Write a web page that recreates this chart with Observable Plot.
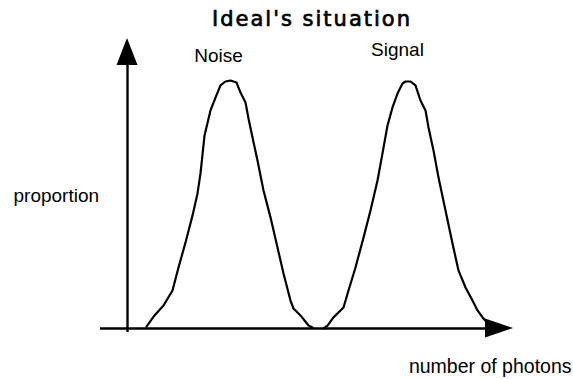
<!DOCTYPE html>
<html>
<head>
<meta charset="utf-8">
<script src="https://cdn.jsdelivr.net/npm/d3@7"></script>
<script src="https://cdn.jsdelivr.net/npm/@observablehq/plot@0.6"></script>
<style>
  html, body { margin: 0; padding: 0; background: #fff; }
</style>
</head>
<body>
<div id="chart"></div>
<script>
// Photon counts (arbitrary units) and the proportion of trials at each count.
const noiseX = [4.75, 6.75, 9, 11.25, 12.75, 14.5, 16.25, 17.5, 18.25, 19.25, 20.75, 22, 23.25, 24.5, 25.75,
                27.25, 28.25, 29.5, 30.25, 31.25, 32.5, 34, 35.75, 37.5, 39, 40.75, 41.5, 43.25, 45.25, 46.25];
const noiseY = [0.008, 0.053, 0.093, 0.154, 0.247, 0.348, 0.457, 0.547, 0.628, 0.781, 0.883, 0.935, 0.984, 1.0, 1.004,
                0.996, 0.955, 0.915, 0.850, 0.773, 0.680, 0.559, 0.450, 0.328, 0.223, 0.113, 0.081, 0.053, 0.012, 0.004];

const signalX = [49, 50, 51.5, 54, 55.25, 57, 59, 60.75, 62.5, 63.75, 65, 66.25, 67.5, 68.75, 69.5,
                 70.75, 72, 73.25, 74.5, 75.25, 76.5, 77.75, 79.5, 81.25, 82.75, 84.5, 86.25, 87.5, 89, 90.75];
const signalY = [0, 0.012, 0.045, 0.085, 0.154, 0.247, 0.368, 0.478, 0.599, 0.709, 0.822, 0.895, 0.951, 0.992, 1.0,
                 1.0, 0.984, 0.923, 0.883, 0.814, 0.721, 0.611, 0.478, 0.344, 0.235, 0.166, 0.113, 0.073, 0.040, 0.012];

const seriesNames = ["Noise", "Signal"];
const titleText = "Ideal's situation";
const xLabel = "number of photons";
const yLabel = "proportion";

// Extent of the two hand-drawn axes (data units).
const xAxisFrom = -6.75, xAxisTo = 96.5;
const yAxisFrom = -0.016, yAxisTo = 1.174;

const W = 573, H = 379;
const margin = {top: 81, right: 60, bottom: 51, left: 127};
const pxPerX = (W - margin.left - margin.right) / (xAxisTo - 0);
const pxPerY = (H - margin.top - margin.bottom) / 1;

const toRows = (xs, ys, name) => xs.map((x, i) => ({x, y: ys[i], name}));
const noise = toRows(noiseX, noiseY, seriesNames[0]);
const signal = toRows(signalX, signalY, seriesNames[1]);
const peak = rows => rows.reduce((a, b) => (b.y > a.y ? b : a));

// Filled arrowheads, sized in pixels and converted to data units.
const headLen = 28, headHalf = 9.5;
const xHead = [
  {x: xAxisTo - headLen / pxPerX, h: headHalf / pxPerY},
  {x: xAxisTo, h: 0}
];
const yHead = [
  {y: yAxisTo - 27 / pxPerY, w: 10.5 / pxPerX},
  {y: yAxisTo, w: 0}
];

const labelFont = "'Liberation Sans', Arial, sans-serif";

const chart = Plot.plot({
  width: W,
  height: H,
  marginTop: margin.top,
  marginRight: margin.right,
  marginBottom: margin.bottom,
  marginLeft: margin.left,
  x: {domain: [0, xAxisTo], axis: null},
  y: {domain: [0, 1], axis: null},
  style: {background: "#fff", color: "#000"},
  marks: [
    // axes
    Plot.ruleY([0], {x1: xAxisFrom, x2: xAxisTo - headLen / pxPerX, stroke: "black", strokeWidth: 2.4}),
    Plot.ruleX([0], {y1: yAxisFrom, y2: yAxisTo - 27 / pxPerY, stroke: "black", strokeWidth: 2.4}),
    Plot.areaY(xHead, {x: "x", y1: d => -d.h, y2: d => d.h, fill: "black"}),
    Plot.areaX(yHead, {y: "y", x1: d => -d.w, x2: d => d.w, fill: "black"}),
    // distributions
    Plot.line(noise, {x: "x", y: "y", stroke: "black", strokeWidth: 2.2}),
    Plot.line(signal, {x: "x", y: "y", stroke: "black", strokeWidth: 2.2}),
    // series labels above each peak
    Plot.text([peak(noise)], {x: "x", y: "y", text: "name", dx: -12, dy: -18.5, lineAnchor: "bottom",
      fontSize: 19, fontFamily: labelFont, fill: "black"}),
    Plot.text([peak(signal)], {x: "x", y: "y", text: "name", dx: -8, dy: -26, lineAnchor: "bottom",
      fontSize: 19, fontFamily: labelFont, fill: "black"}),
    // title (slightly heavier strokes) and axis labels
    Plot.text([titleText], {frameAnchor: "top", dx: -8.5, dy: -56, lineAnchor: "bottom", textAnchor: "middle",
      fontSize: 21, fontFamily: "'DejaVu Sans', sans-serif", fill: "black", stroke: "black", strokeWidth: 0.7}),
    Plot.text([yLabel], {frameAnchor: "left", dx: -114, dy: -3.5, lineAnchor: "bottom", textAnchor: "start",
      fontSize: 19, fontFamily: labelFont, fill: "black"}),
    Plot.text([xLabel], {frameAnchor: "bottom-right", dx: 58, dy: 44, lineAnchor: "bottom", textAnchor: "end",
      fontSize: 19.5, fontFamily: labelFont, fill: "black"})
  ]
});

// wide tracking on the title
d3.select(chart).selectAll("text")
  .filter(function () { return this.textContent === titleText; })
  .style("letter-spacing", "2px");

document.getElementById("chart").appendChild(chart);
</script>
</body>
</html>
